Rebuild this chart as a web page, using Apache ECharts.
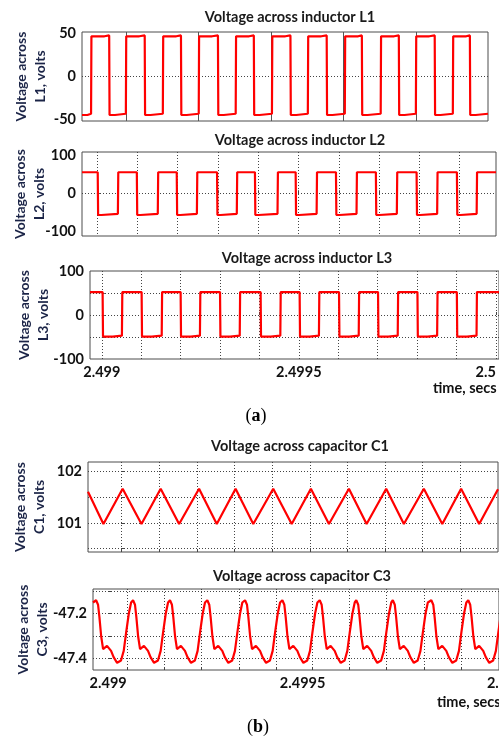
<!DOCTYPE html>
<html>
<head>
<meta charset="utf-8">
<script src="https://cdn.jsdelivr.net/npm/echarts@6.0.0/dist/echarts.min.js"></script>
<style>
  html, body { margin: 0; padding: 0; background: #fff; }
  #chart { width: 499px; height: 740px; }
</style>
</head>
<body>
<div id="chart"></div>
<script>
// all times are in microseconds after t = 2.499 s
const timeLabelValues = [0, 500, 1000];
const timeLabels = ['2.499', '2.4995', '2.5'];

const panelTitles = [
  'Voltage across inductor L1',
  'Voltage across inductor L2',
  'Voltage across inductor L3',
  'Voltage across capacitor C1',
  'Voltage across capacitor C3'
];
const yNames = [
  'Voltage across\nL1, volts',
  'Voltage across\nL2, volts',
  'Voltage across\nL3, volts',
  'Voltage across\nC1, volts',
  'Voltage across\nC3, volts'
];

// inductor L1 : switching edges and plateau levels [start, later]
const l1Rise = [-96, 0, 102, 201, 303, 403, 502, 604, 703, 800, 902];
const l1Fall = [-46, 52, 152, 254, 353, 454, 554, 651, 753, 852, 949];
const l1High = [47, 48];
const l1Low = [-45, -43.5];

// inductor L2
const l2Fall = [2, 99, 198, 298, 392, 493, 593, 692, 793, 893];
const l2Rise = [52, 151, 248, 347, 448, 545, 644, 744, 844, 942];
const l2High = [55, 55];
const l2Low = [-57, -54];

// inductor L3
const l3Fall = [2, 101, 200, 300, 403, 502, 602, 701, 801, 901];
const l3Rise = [51, 152, 249, 350, 453, 551, 652, 751, 851, 951];
const l3High = [52, 52];
const l3Low = [-49, -47];

// capacitor C1 : triangle corners
const c1Peaks = [3, 104, 206, 303, 403, 503, 604, 703, 803, 902];
const c1Mins = [-48, 53, 153, 253, 350, 452, 551, 651, 750, 852, 950];
const c1PeakV = 101.67;
const c1MinV = 100.98;
const c1Ends = [[-89, 101.61], [1000, 101.66]];

// capacitor C3 : peak times and one ripple period
const c3Peaks = [-31, 64, 159, 255, 352, 448, 544, 638, 732, 831, 926];
const c3ShapeDt = [0, 5, 8.5, 13, 18, 28, 38.5, 45, 54, 64, 71, 77, 84, 90];
const c3ShapeV = [-47.14, -47.16, -47.215, -47.30, -47.357, -47.343, -47.365, -47.393, -47.418, -47.408, -47.365, -47.286, -47.2, -47.15];
const c3Start = [-39, -47.15];

// vertical grid lines per panel
const l1Grid = [0, 200, 400, 600, 800];
const l2Grid = [0, 100, 200, 300, 400, 500, 600, 700, 800, 900];
const l3Grid = [0, 100, 200, 300, 400, 500, 600, 700, 800, 900, 1000];
const c1Grid = [0, 100, 200, 300, 400, 500, 600, 700, 800, 900];
const c3Grid = [50, 145, 240, 337, 433, 526, 619, 714, 812, 908];

function squareWave(tMin, tMax, rises, falls, high, low, stepHigh, stepLow) {
  const edges = rises.map(t => ({ t, up: true }))
    .concat(falls.map(t => ({ t, up: false })))
    .sort((a, b) => a.t - b.t);
  const pts = [];
  const plateau = (a, b, isHigh) => {
    const lv = isHigh ? high : low;
    const s = isHigh ? stepHigh : stepLow;
    pts.push([a, lv[0]]);
    if (a + s < b) {
      pts.push([a + s, lv[0]], [a + s, lv[1]], [b, lv[1]]);
    } else {
      pts.push([b, lv[0]]);
    }
  };
  let start = tMin, up = !edges[0].up;
  edges.forEach(e => {
    plateau(start, e.t, up);
    start = e.t + 1;
    up = e.up;
  });
  plateau(start, tMax, up);
  return pts;
}

const l1Data = squareWave(-121, 999, l1Rise, l1Fall, l1High, l1Low, 36, 15);
const l2Data = squareWave(-37, 990, l2Rise, l2Fall, l2High, l2Low, 100, 8);
const l3Data = squareWave(-30, 1008, l3Rise, l3Fall, l3High, l3Low, 100, 25);

const c1Data = [c1Ends[0]]
  .concat(c1Peaks.map(t => [t, c1PeakV]), c1Mins.map(t => [t, c1MinV]))
  .sort((a, b) => a[0] - b[0]);
c1Data.push(c1Ends[1]);

const c3Data = [c3Start];
c3Peaks.forEach(p => c3ShapeDt.forEach((d, j) => c3Data.push([p + d, c3ShapeV[j]])));

const chart = echarts.init(document.getElementById('chart'));

const labelFont = { fontFamily: 'Lato', fontWeight: 'bold', fontSize: 14.5, color: '#111' };
const dotted = [1, 2];

function xAx(gi, min, max, gridVals, solid, withLabels, alignMax) {
  return {
    type: 'value', gridIndex: gi, min: min, max: max,
    axisLine: { show: false },
    axisTick: { show: true, inside: true, length: 3, customValues: gridVals, lineStyle: { color: '#444' } },
    splitLine: { show: true, lineStyle: { color: solid ? '#555' : '#444', type: solid ? 'solid' : dotted, width: 1 } },
    axisLabel: withLabels
      ? Object.assign({ customValues: timeLabelValues, margin: 6, alignMaxLabel: alignMax,
          formatter: v => timeLabels[timeLabelValues.indexOf(v)] }, labelFont)
      : { show: false }
  };
}

function yAx(gi, min, max, labelVals, gridVals, gap) {
  return {
    type: 'value', gridIndex: gi, min: min, max: max,
    name: yNames[gi], nameLocation: 'middle', nameRotate: 90, nameGap: gap, nameMoveOverlap: false,
    nameTextStyle: { fontFamily: 'Lato', fontWeight: 'bold', fontSize: 14, color: '#1b2447', lineHeight: 19 },
    axisLine: { show: false },
    axisTick: { show: true, inside: true, length: 3, customValues: gridVals, lineStyle: { color: '#444' } },
    splitLine: { show: true, lineStyle: { color: '#444', type: dotted, width: 1 } },
    axisLabel: Object.assign({ customValues: labelVals, margin: 6 }, labelFont)
  };
}

const gridBase = { show: true, borderColor: '#4d4d4d', borderWidth: 1, containLabel: false, outerBoundsMode: 'none' };
const titlePos = [[290, 17], [300, 140], [307, 258], [300, 446], [302, 576]];

function series(gi, data) {
  return {
    type: 'line', xAxisIndex: gi, yAxisIndex: gi, data: data,
    showSymbol: false, symbol: 'none', clip: true,
    lineStyle: { color: '#ff0000', width: 2.2 }
  };
}

const serifRich = {
  n: { font: '18px "Liberation Serif"', fill: '#000' },
  b: { font: 'bold 18px "Liberation Serif"', fill: '#000' }
};

chart.setOption({
  animation: false,
  backgroundColor: '#fff',
  textStyle: { fontFamily: 'Lato' },
  grid: [
    Object.assign({ left: 82, top: 32, width: 406, height: 89 }, gridBase),
    Object.assign({ left: 82, top: 152, width: 414, height: 84 }, gridBase),
    Object.assign({ left: 90, top: 271, width: 409, height: 88 }, gridBase),
    Object.assign({ left: 88, top: 462, width: 410, height: 90 }, gridBase),
    Object.assign({ left: 93, top: 589, width: 406, height: 81 }, gridBase)
  ],
  xAxis: [
    xAx(0, -121, 999, l1Grid, true, false),
    xAx(1, -37, 990, l2Grid, false, false),
    xAx(2, -30, 1008, l3Grid, false, true, 'right'),
    xAx(3, -89, 1000, c1Grid, false, false),
    xAx(4, -39, 1005, c3Grid, false, true)
  ],
  yAxis: [
    yAx(0, -52, 52, [-50, 0, 50], [0], 32),
    yAx(1, -112, 108, [-100, 0, 100], [0], 33),
    yAx(2, -100, 100, [-100, 0, 100], [-50, 0, 50], 37),
    yAx(3, 100.435, 102.19, [101, 102], [100.5, 101, 101.5, 102], 39),
    yAx(4, -47.45, -47.09, [-47.4, -47.2], [-47.4, -47.3, -47.2, -47.1], 41)
  ],
  series: [
    series(0, l1Data),
    series(1, l2Data),
    series(2, l3Data),
    series(3, c1Data),
    series(4, c3Data)
  ],
  graphic: panelTitles.map((t, i) => ({
    type: 'text', x: titlePos[i][0], y: titlePos[i][1],
    style: { text: t, font: 'bold 14.5px Lato', fill: '#1a1a1a', align: 'center', verticalAlign: 'middle' }
  })).concat([
    { type: 'text', x: 433, y: 388,
      style: { text: 'time, secs', font: 'bold 14.5px Lato', fill: '#111', align: 'left', verticalAlign: 'middle' } },
    { type: 'text', x: 437, y: 702,
      style: { text: 'time, secs', font: 'bold 14.5px Lato', fill: '#111', align: 'left', verticalAlign: 'middle' } },
    { type: 'text', x: 256, y: 416,
      style: { text: '{n|(}{b|a}{n|)}', align: 'center', verticalAlign: 'middle', rich: serifRich } },
    { type: 'text', x: 258, y: 727,
      style: { text: '{n|(}{b|b}{n|)}', align: 'center', verticalAlign: 'middle', rich: serifRich } }
  ])
});
</script>
</body>
</html>
